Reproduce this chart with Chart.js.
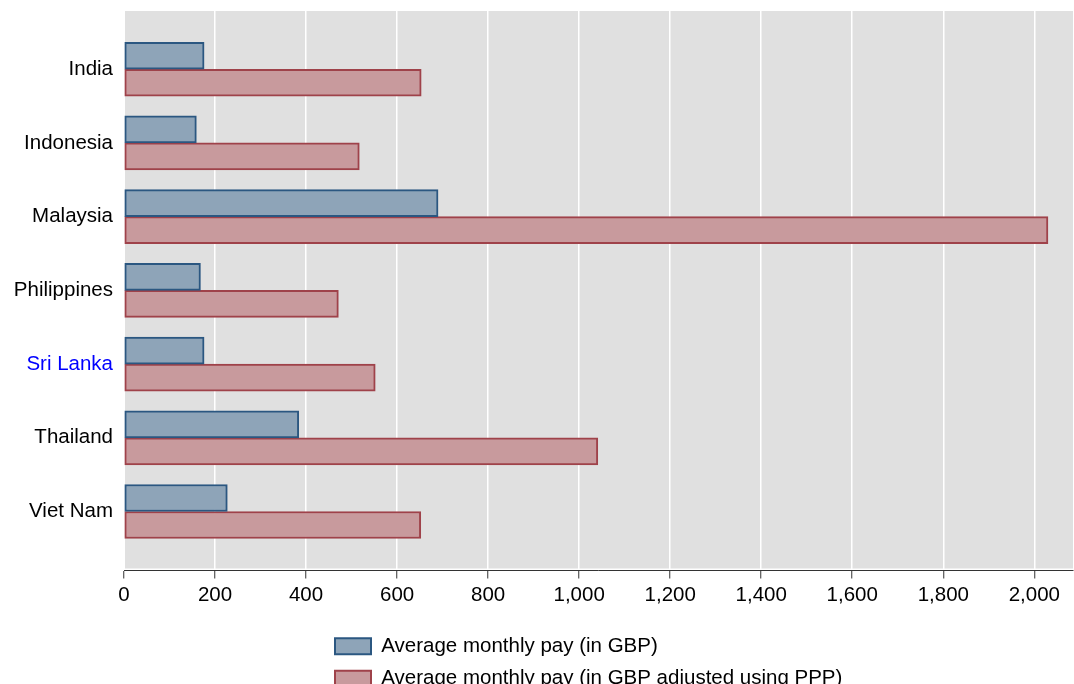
<!DOCTYPE html>
<html>
<head>
<meta charset="utf-8">
<script src="https://cdn.jsdelivr.net/npm/chart.js@4"></script>
<style>
  html, body { margin: 0; padding: 0; background: #ffffff; }
  #wrap { width: 1074px; height: 684px; position: relative; }
</style>
</head>
<body>
<div id="wrap"><canvas id="c" width="1074" height="684"></canvas></div>
<script>
const countries = ["India", "Indonesia", "Malaysia", "Philippines", "Sri Lanka", "Thailand", "Viet Nam"];
const payGBP = [176, 159, 690, 168, 176, 384, 227];
const payPPP = [653, 517, 2030, 471, 552, 1041, 652];
const seriesNames = ["Average monthly pay (in GBP)", "Average monthly pay (in GBP adjusted using PPP)"];
const highlighted = "Sri Lanka";
const xTickStep = 200;
const xMax = 2085;

const toPoints = (vals) => vals.map((v, i) => ({ x: v, y: i }));

const bgPlugin = {
  id: 'plotBg',
  beforeDraw(chart) {
    const { ctx, chartArea } = chart;
    ctx.save();
    ctx.fillStyle = '#e0e0e0';
    ctx.fillRect(chartArea.left + 1, chartArea.top, chartArea.right - chartArea.left - 1, chartArea.bottom - chartArea.top - 2);
    ctx.restore();
  },
  afterLayout(chart) {
    const lg = chart.legend;
    if (lg) {
      const pad = lg.options.labels.padding;
      lg.left = 335 - pad;
      lg.right = 1074;
      lg.top = 624;
      lg.width = lg.right - lg.left;
    }
  }
};

new Chart(document.getElementById('c'), {
  type: 'bar',
  data: {
    datasets: [
      {
        label: seriesNames[0],
        data: toPoints(payGBP),
        backgroundColor: '#8ea4b8',
        borderColor: '#2b5781',
        borderWidth: 2,
        borderSkipped: false
      },
      {
        label: seriesNames[1],
        data: toPoints(payPPP),
        backgroundColor: '#c89a9d',
        borderColor: '#9f424a',
        borderWidth: 2,
        borderSkipped: false
      }
    ]
  },
  options: {
    indexAxis: 'y',
    responsive: false,
    animation: false,
    events: [],
    layout: { padding: { top: 11, right: 1, left: 0, bottom: 0 } },
    datasets: { bar: { barThickness: 27, grouped: true } },
    scales: {
      x: {
        type: 'linear',
        min: 0,
        max: xMax,
        position: 'bottom',
        grid: {
          color: '#ffffff',
          lineWidth: 1.5,
          drawTicks: true,
          tickLength: 8,
          tickColor: '#333333',
          tickWidth: 1
        },
        border: { display: true, color: '#333333', width: 1 },
        ticks: {
          stepSize: xTickStep,
          includeBounds: false,
          color: '#000000',
          padding: 5,
          maxRotation: 0,
          font: { family: 'Liberation Sans, Arial, sans-serif', size: 20.5 }
        },
        afterFit(scale) { scale.height = 71; }
      },
      y: {
        type: 'linear',
        min: -0.79,
        max: 6.8,
        reverse: true,
        offset: false,
        grid: { display: false, drawTicks: false, offset: false },
        border: { display: false },
        afterBuildTicks(scale) {
          scale.ticks = countries.map((_, i) => ({ value: i }));
        },
        ticks: {
          autoSkip: false,
          padding: 11,
          font: { family: 'Liberation Sans, Arial, sans-serif', size: 20.5 },
          color: (ctx) => (countries[ctx.tick && ctx.tick.value] === highlighted ? '#0000ff' : '#000000'),
          callback: (v) => countries[v] !== undefined ? countries[v] : ''
        },
        afterFit(scale) {
          scale.width = 124;
          scale.paddingTop = 0;
          scale.paddingBottom = 0;
        }
      }
    },
    plugins: {
      tooltip: { enabled: false },
      legend: {
        display: true,
        position: 'bottom',
        align: 'start',
        labels: {
          boxWidth: 36,
          boxHeight: 16,
          padding: 12,
          color: '#000000',
          font: { family: 'Liberation Sans, Arial, sans-serif', size: 20.5 }
        }
      }
    }
  },
  plugins: [bgPlugin]
});
</script>
</body>
</html>
